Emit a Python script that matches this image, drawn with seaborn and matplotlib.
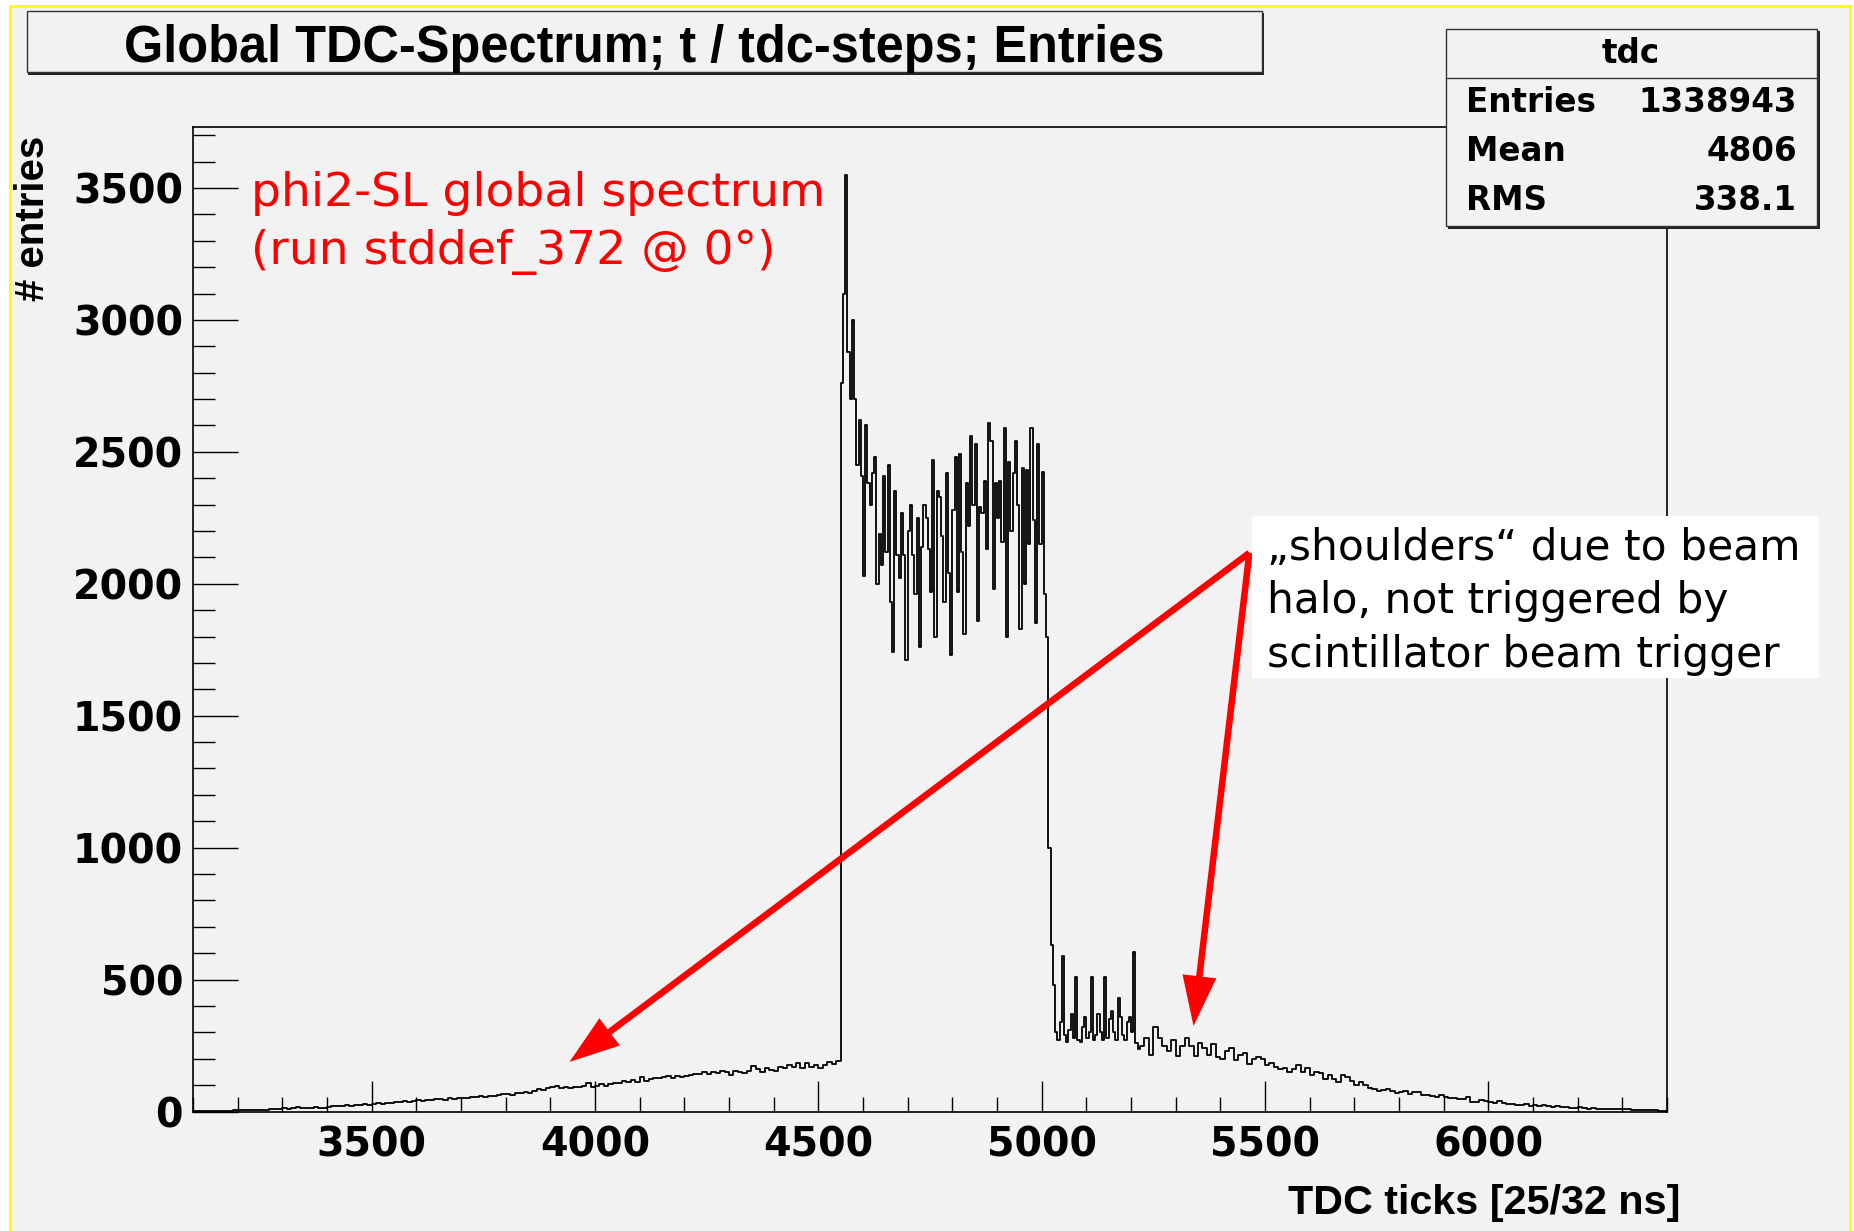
import numpy as np
import pandas as pd
import matplotlib
matplotlib.use("Agg")
import matplotlib.pyplot as plt
import seaborn as sns
from matplotlib.patches import Rectangle, FancyArrowPatch, ArrowStyle
from matplotlib.lines import Line2D

# ---------------- data ----------------
# left tail: 10-tick bins starting at 3100
left_start, left_width = 3100, 10
left_counts = [
    1, 1, 2, 1, 2, 3, 2, 3, 2, 4,
    4, 5, 6, 5, 7, 6, 7, 8, 10, 9,
    12, 11, 13, 16, 13, 15, 14, 16, 15, 14,
    18, 21, 20, 22, 24, 22, 25, 24, 27, 26,
    28, 31, 30, 34, 32, 36, 35, 38, 37, 40,
    42, 40, 45, 43, 46, 48, 45, 50, 47, 52,
    53, 50, 56, 54, 58, 55, 60, 58, 62, 66,
    68, 64, 72, 70,
    75, 71, 79, 84, 81, 88, 92, 97, 88, 92,
    88, 94, 92, 97, 108, 94, 97, 104, 97, 104,
    109, 107, 117, 113, 119, 112, 130, 117, 122, 126,
    126, 130, 135, 126, 135, 132, 135, 138, 142, 142,
    151, 142, 151, 147, 155, 151, 138, 155, 151, 147,
    155, 172, 160, 151, 164, 157, 155, 170, 164, 176,
    170, 182, 164, 182, 170, 176, 164, 176, 189, 180,
    190,
]
# central peak / plateau / spikes: 5-tick bins starting at 4550
mid_start, mid_width = 4550, 5
mid_counts = [
    2760, 3100, 3550, 2880, 2700, 3000, 2700, 2450, 2620, 2410,
    2030, 2600, 2380, 2300, 2420, 2480, 2000, 2190, 2070, 2410,
    2120, 2450, 1930, 1740, 2350, 2110, 2020, 2270, 2110, 1710,
    2200, 2300, 2110, 1960, 2250, 1760, 2140, 2300, 2250, 2130,
    1970, 2470, 1800, 2350, 2330, 2180, 1930, 2420, 2040, 1730,
    2280, 2480, 1970, 2490, 2120, 1810, 2380, 2220, 2560, 2300,
    2530, 1860, 2290, 2270, 2390, 2130, 2610, 2540, 1980, 2380,
    2250, 2390, 2160, 2590, 1800, 2460, 2200, 2420, 2540, 2300,
    1830, 2440, 2000, 2430, 2150, 2590, 2240, 1850, 2530, 2150,
    2425, 1960, 1800, 1000, 630, 480,
    300, 270, 340, 590, 290, 265, 310, 370, 280, 510,
    270, 265, 320, 360, 280, 300, 510, 270, 290, 370,
    300, 270, 510, 280, 350, 380, 300, 270, 430, 360,
    290, 270, 340, 360, 300, 606, 260, 235,
]
# right tail: 10-tick bins starting at 5220
right_start, right_width = 5220, 10
right_counts = [
    250, 280, 215, 320, 280, 250, 230, 270, 210, 250,
    280, 250, 210, 260, 240, 215, 255, 205, 200, 230,
    240, 195, 215, 220, 180, 200, 205, 200, 175, 185,
    170, 160, 165, 150, 160, 175, 150, 165, 140, 150,
    145, 125, 140, 125, 110, 140, 130, 115,
    100, 110, 100, 88, 84, 79, 82, 84, 79, 71,
    75, 79, 66, 75, 75, 62, 62, 59, 56, 62,
    54, 50, 50, 47, 46, 56, 37, 37, 44, 41,
    37, 33, 41, 33, 28, 27, 26, 25, 27, 22,
    25, 21, 23, 21, 18, 21, 18, 16, 15, 13,
    16, 13, 11, 12, 11, 9, 11, 8, 8, 11,
    9, 8, 7, 6, 6, 4, 6, 4, 3, 3,
]

x_range = (3100, 6400)
y_range = (0, 3731)
x_major_ticks = [3500, 4000, 4500, 5000, 5500, 6000]
y_major_ticks = [0, 500, 1000, 1500, 2000, 2500, 3000, 3500]

title_text = "Global TDC-Spectrum; t / tdc-steps; Entries"
stats_name = "tdc"
stats_labels = ["Entries", "Mean", "RMS"]
stats_values = ["1338943", "4806", "338.1"]
note_lines = ["phi2-SL global spectrum", "(run stddef_372 @ 0°)"]
box_lines = ["\u201eshoulders\u201c due to beam", "halo, not triggered by",
             "scintillator beam trigger"]
x_label = "TDC ticks [25/32 ns]"
y_label = "# entries"
arrow_from = (5465, 2117)
arrow_tips = [(3943, 188), (5340, 324)]

# ---------------- build histogram table ----------------
def seg(start, width, counts):
    n = len(counts)
    return start + width * np.arange(n), np.full(n, width, dtype=float), np.asarray(counts, float)

parts = [seg(left_start, left_width, left_counts),
         seg(mid_start, mid_width, mid_counts),
         seg(right_start, right_width, right_counts)]
lefts = np.concatenate([p[0] for p in parts]).astype(float)
widths = np.concatenate([p[1] for p in parts])
counts = np.concatenate([p[2] for p in parts])
edges = [float(e) for e in np.append(lefts, lefts[-1] + widths[-1])]
df = pd.DataFrame({"tdc": lefts + widths / 2, "entries": counts})

# ---------------- figure ----------------
sns.set_style("white")
plt.rcParams.update({
    "font.family": ["DejaVu Sans"],
    "text.color": "black",
    "xtick.color": "black",
    "ytick.color": "black",
    "axes.labelcolor": "black",
    "xtick.bottom": True,
    "ytick.left": True,
})

W, H = 1854, 1231
BG = "#f2f2f2"
HELV = ["Liberation Sans", "DejaVu Sans"]
fig = plt.figure(figsize=(W / 100, H / 100), dpi=100, facecolor="white")


def fx(x):
    return x / W


def fy(y):
    return 1 - y / H


def frect(x0, y0, x1, y1, **kw):
    r = Rectangle((fx(x0), fy(y1)), fx(x1) - fx(x0), fy(y0) - fy(y1),
                  transform=fig.transFigure, **kw)
    fig.add_artist(r)
    return r


# canvas background with yellow border
frect(9.5, 5.5, 1850, 1245, facecolor=BG, edgecolor="#ffff00", lw=2.0, zorder=-5)

ax = fig.add_axes([fx(193), fy(1111.5), fx(1667) - fx(193), fy(127) - fy(1111.5)])
ax.set_facecolor(BG)
sns.histplot(data=df, x="tdc", weights="entries", bins=edges, element="step",
             fill=False, color="black", linewidth=1.3, ax=ax)
ax.set_xlim(*x_range)
ax.set_ylim(*y_range)
ax.set_xlabel("")
ax.set_ylabel("")

ax.set_xticks(x_major_ticks, [str(t) for t in x_major_ticks], fontweight="bold")
ax.set_yticks(y_major_ticks, [str(t) for t in y_major_ticks], fontweight="bold")
ax.xaxis.set_minor_locator(matplotlib.ticker.MultipleLocator(100))
ax.yaxis.set_minor_locator(matplotlib.ticker.MultipleLocator(100))
ax.tick_params(axis="x", which="both", bottom=True, top=False)
ax.tick_params(axis="y", which="both", left=True, right=False)
ax.tick_params(axis="x", which="major", direction="in", length=22.3, width=1.0,
               pad=10, labelsize=28.5, color="black", labelcolor="black")
ax.tick_params(axis="x", which="minor", direction="in", length=10.8, width=1.0, color="black")
ax.tick_params(axis="y", which="major", direction="in", length=32.4, width=1.0,
               pad=7.2, labelsize=28.5, color="black", labelcolor="black")
ax.tick_params(axis="y", which="minor", direction="in", length=15.8, width=1.0, color="black")
for s in ax.spines.values():
    s.set_color("black")
    s.set_linewidth(1.2)

# arrows
style = ArrowStyle.Simple(head_length=36, head_width=24.5, tail_width=4.7)
for tip in arrow_tips:
    ax.add_patch(FancyArrowPatch(posA=arrow_from, posB=tip, arrowstyle=style,
                                 mutation_scale=1, color="red", lw=0,
                                 shrinkA=0, shrinkB=0, zorder=5, clip_on=False))

# title box with shadow
frect(28, 13.5, 1264, 74.5, facecolor="#222222", edgecolor="none", zorder=1)
frect(26.5, 11, 1262, 72, facecolor=BG, edgecolor="#333333", lw=1.0, zorder=2)
fig.text(fx(644), fy(61.7), title_text, ha="center", va="baseline",
         fontsize=36.4, fontweight="bold", family=HELV, zorder=4)

# stats box with shadow
frect(1448, 31, 1819.5, 228.5, facecolor="#222222", edgecolor="none", zorder=1)
frect(1446, 29, 1817, 226, facecolor=BG, edgecolor="#333333", lw=1.0, zorder=2)
fig.add_artist(Line2D([fx(1446), fx(1817)], [fy(78), fy(78)], transform=fig.transFigure,
                      color="#333333", lw=1.0, zorder=3))
fig.text(fx(1631), fy(63), stats_name, ha="center", va="baseline", fontsize=23.5,
         fontweight="bold", zorder=4)
for i, (lab, val) in enumerate(zip(stats_labels, stats_values)):
    yb = 111.7 + 49.2 * i
    fig.text(fx(1466), fy(yb), lab, ha="left", va="baseline", fontsize=23.5,
             fontweight="bold", zorder=4)
    fig.text(fx(1797), fy(yb), val, ha="right", va="baseline", fontsize=23.5,
             fontweight="bold", zorder=4)

# red note
for i, line in enumerate(note_lines):
    fig.text(fx(251), fy(206 + 58 * i), line, ha="left", va="baseline",
             fontsize=34, color="#ff0000", zorder=4)

# white annotation box
frect(1252, 516, 1819, 678, facecolor="white", edgecolor="none", zorder=2)
for i, line in enumerate(box_lines):
    fig.text(fx(1267), fy(560 + 53.5 * i), line, ha="left", va="baseline",
             fontsize=30.5, color="black", zorder=4)

# axis labels
fig.text(fx(1681), fy(1214), x_label, ha="right", va="baseline", fontsize=29.7,
         fontweight="bold", family=HELV)
fig.text(fx(33), fy(136), y_label, ha="center", va="top", rotation=90,
         fontsize=29, fontweight="bold", family=HELV)

fig.savefig("out.png", dpi=100, facecolor="white")
